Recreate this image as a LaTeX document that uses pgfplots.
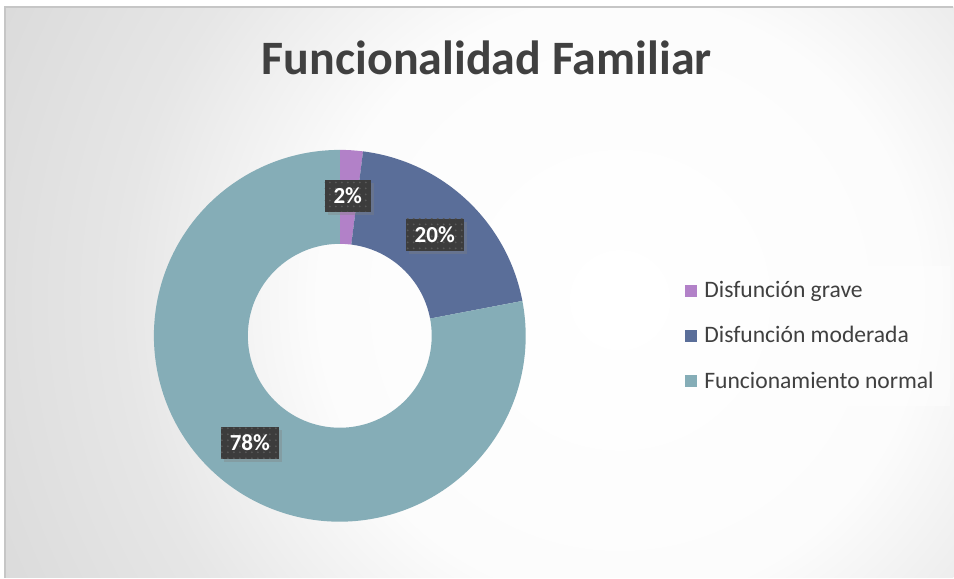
\documentclass[border=0pt]{standalone}
\usepackage{pgfplots}
\pgfplotsset{compat=1.18}
\usepackage{pgfplotstable}
\usepackage{fontspec}
\setmainfont{Carlito}
\usetikzlibrary{shadows,patterns}
\definecolor{cgrave}{HTML}{B281C8}
\definecolor{cmod}{HTML}{5A6E99}
\definecolor{cnorm}{HTML}{85ADB7}
\definecolor{titlec}{HTML}{404040}
\definecolor{legc}{HTML}{404040}
\definecolor{bgA}{HTML}{FCFCFC}
\definecolor{bgB}{HTML}{E6E6E6}
\definecolor{bgC}{HTML}{D6D6D6}
\definecolor{bgD}{HTML}{CECECE}
\definecolor{bgout}{HTML}{C9C9C9}
\definecolor{boxc}{HTML}{3C3C3C}
\definecolor{dotc}{HTML}{595959}
\pgfdeclareradialshading{bgshade}{\pgfpoint{0bp}{0bp}}{color(0bp)=(white); color(9.4bp)=(bgA); color(15.6bp)=(bgB); color(23.75bp)=(bgC); color(34.4bp)=(bgD); color(50bp)=(bgout)}

\pgfplotstableread[col sep=comma]{
name,value
Disfunción grave,2
Disfunción moderada,20
Funcionamiento normal,78
}\datatable
\pgfplotstablegetelem{0}{value}\of\datatable \let\va\pgfplotsretval
\pgfplotstablegetelem{1}{value}\of\datatable \let\vb\pgfplotsretval
\pgfplotstablegetelem{2}{value}\of\datatable \let\vc\pgfplotsretval
\pgfmathsetmacro{\tot}{\va+\vb+\vc}
\pgfmathsetmacro{\aA}{90}
\pgfmathsetmacro{\aB}{90-360*(\va/\tot)}
\pgfmathsetmacro{\aC}{\aB-360*(\vb/\tot)}
\pgfmathsetmacro{\aD}{\aC-360*(\vc/\tot)}
\def\Ro{93pt}
\def\Ri{46pt}
\newcommand{\donutwedge}[3]{%
  \fill[#3] ([shift={(#1:\Ro)}]axis cs:340,242) arc[start angle=#1, end angle=#2, radius=\Ro]
    -- ([shift={(#2:\Ri)}]axis cs:340,242) arc[start angle=#2, end angle=#1, radius=\Ri] -- cycle;}
\tikzset{lab/.style={fill=boxc, text=white, font=\bfseries\fontsize{11.5}{12}\selectfont,
  inner xsep=4.5pt, inner ysep=4pt, drop shadow={shadow xshift=1.5pt, shadow yshift=-1.5pt, opacity=0.35},
  postaction={pattern=dots, pattern color=dotc}}}

\begin{document}
\begin{tikzpicture}
\begin{axis}[
  x=0.5pt, y=0.5pt, xmin=0, xmax=954, ymin=0, ymax=578,
  hide axis, clip=false,
  legend style={at={(axis cs:673,312)}, anchor=north west, fill=white, fill opacity=0.45, text opacity=1,
    draw=none, font=\fontsize{11.8}{13}\selectfont, text=legc, row sep=9pt,
    inner xsep=6pt, inner ysep=5.5pt},
  legend cell align=left,
  legend image code/.code={\fill[#1, fill opacity=1, draw=none] (0pt,-3pt) rectangle (6pt,3pt); \path (7.5pt,0pt);},
]
\fill[white] (axis cs:0,0) rectangle (axis cs:954,578);
\begin{scope}
\clip (axis cs:5,0) rectangle (axis cs:954,571);
\fill[bgout] (axis cs:5,0) rectangle (axis cs:954,571);
\shade[shading=bgshade] (axis cs:620,278) circle (400pt);
\end{scope}
\draw[gray!45, line width=0.6pt] (axis cs:5,0) -- (axis cs:5,571) -- (axis cs:954,571);

\node[font=\bfseries\fontsize{24}{28}\selectfont, text=titlec] at (axis cs:487,520) {Funcionalidad Familiar};

\donutwedge{\aA}{\aB}{cgrave}
\donutwedge{\aB}{\aC}{cmod}
\donutwedge{\aC}{\aD}{cnorm}

\node[lab] at (axis cs:348,382) {\va\%};
\node[lab] at (axis cs:435,343) {\vb\%};
\node[lab] at (axis cs:250,135) {\vc\%};

\addlegendimage{fill=cgrave}
\addlegendentry{Disfunción grave}
\addlegendimage{fill=cmod}
\addlegendentry{Disfunción moderada}
\addlegendimage{fill=cnorm}
\addlegendentry{Funcionamiento normal}
\end{axis}
\end{tikzpicture}
\end{document}
